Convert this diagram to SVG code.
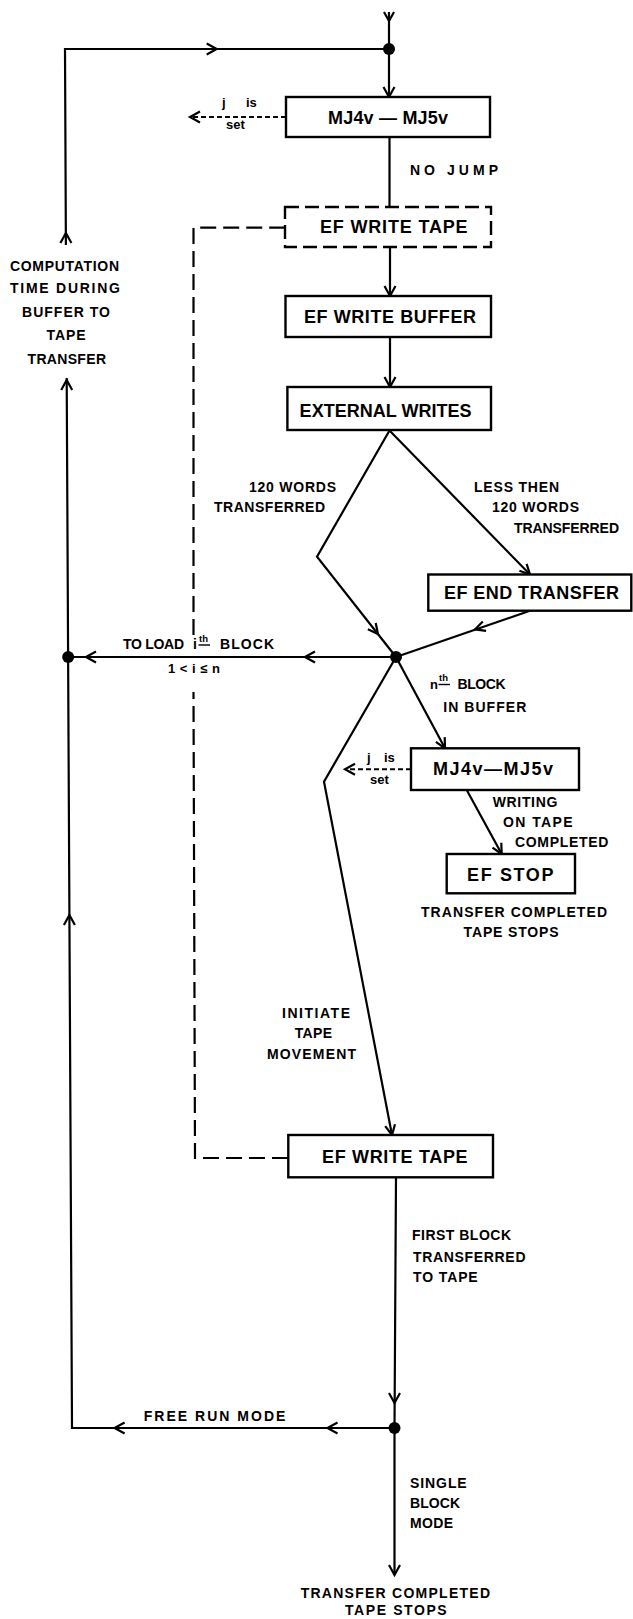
<svg xmlns="http://www.w3.org/2000/svg" width="633" height="1619" viewBox="0 0 633 1619">
<style>
.box{fill:#fff;stroke:#000;stroke-width:2.4}
.dbox{fill:#fff;stroke:#000;stroke-width:2.4;stroke-dasharray:14 6}
.ln{fill:none;stroke:#000;stroke-width:2.2}
.dl{fill:none;stroke:#000;stroke-width:2.2;stroke-dasharray:16 7}
.ds{fill:none;stroke:#000;stroke-width:2;stroke-dasharray:5 3}
.ah{fill:none;stroke:#000;stroke-width:2.2}
.dot{fill:#000}
.bt{font-family:'Liberation Sans',Arial,sans-serif;font-size:18px;font-weight:bold;fill:#000}
.lb{font-family:'Liberation Sans',Arial,sans-serif;font-size:14px;font-weight:bold;fill:#000}
.sm{font-family:'Liberation Sans',Arial,sans-serif;font-size:13px;font-weight:bold;fill:#000}
.sup{font-family:'Liberation Sans',Arial,sans-serif;font-size:9.5px;font-weight:bold;fill:#000}
</style>
<g id="connectors">
  <path class="ln" d="M389,12 V49"/>
  <path class="ah" d="M384,12 L389,21 L394,12"/>
  <path class="ln" d="M65.9,245 L65,49 H389"/>
  <path class="ah" d="M206.7,43.5 L216.7,49 L206.7,54.5"/>
  <path class="ah" d="M60.4,243 L65.9,233 L71.4,243"/>
  <path class="ln" d="M389,49 V97"/>
  <path class="ah" d="M383.5,87 L389,97 L394.5,87"/>
  <path class="ds" d="M286,117 H191"/>
  <path class="ah" d="M200,111.5 L190,117 L200,122.5"/>
  <path class="ln" d="M389.5,137 V207"/>
  <path class="ln" d="M390,247 V296"/>
  <path class="ah" d="M384.5,286 L390,296 L395.5,286"/>
  <path class="ln" d="M390,337 V387"/>
  <path class="ah" d="M384.5,377 L390,387 L395.5,377"/>
  <path class="ln" d="M396,657 L317,556.7 L389.5,430.5 L530,574.5"/>
  <path class="ah" d="M367.9,629.2 L378,634 L375.7,623.1"/>
  <path class="ah" d="M519.4,570.8 L530,574.5 L526.6,563.9"/>
  <path class="ln" d="M530,610.7 L396,657"/>
  <path class="ah" d="M482.8,621.4 L475,629.4 L486.1,630.9"/>
  <path class="ln" d="M396,657 H68"/>
  <path class="ah" d="M315,651.5 L305,657 L315,662.5"/>
  <path class="ah" d="M96,651.5 L86,657 L96,662.5"/>
  <path class="ln" d="M396,657 L445,748.3"/>
  <path class="ah" d="M435.9,741.9 L445,748.3 L444.7,737.1"/>
  <path class="ds" d="M411,769.3 H346"/>
  <path class="ah" d="M355,763.8 L345,769.3 L355,774.8"/>
  <path class="ln" d="M466.7,790 L501.7,854"/>
  <path class="ah" d="M492.5,847.6 L501.7,854 L501.3,842.8"/>
  <path class="ln" d="M396,657 L324,781.7 L392,1135"/>
  <path class="ah" d="M385.2,1126.1 L392,1135 L395,1124.2"/>
  <path class="dl" d="M288,1158 H195 L193.5,692"/>
  <path class="dl" d="M193.5,635 L193.5,227.7 H285"/>
  <path class="ln" d="M396,1177 L394.5,1428 V1575"/>
  <path class="ah" d="M389,1393 L394.5,1403 L400,1393"/>
  <path class="ah" d="M389,1565 L394.5,1575 L400,1565"/>
  <path class="ln" d="M394.5,1428 H72 L66.7,378"/>
  <path class="ah" d="M337.5,1422.5 L327.5,1428 L337.5,1433.5"/>
  <path class="ah" d="M124.6,1422.5 L114.6,1428 L124.6,1433.5"/>
  <path class="ah" d="M61.2,390 L66.7,380 L72.2,390"/>
  <path class="ah" d="M63.9,925 L69.4,915 L74.9,925"/>
  <circle class="dot" cx="389" cy="49" r="6"/>
  <circle class="dot" cx="68.2" cy="657" r="6"/>
  <circle class="dot" cx="396" cy="657" r="6"/>
  <circle class="dot" cx="394.5" cy="1428" r="6"/>
</g>
<g id="n_mj_top">
  <rect class="box" x="286" y="97" width="204" height="40"/>
  <text class="bt" x="328" y="123.5" textLength="120">MJ4v — MJ5v</text>
</g>
<g id="n_ef_write_tape_dashed">
  <rect class="dbox" x="285" y="207" width="206" height="40"/>
  <text class="bt" x="320" y="233" textLength="147.6">EF WRITE TAPE</text>
</g>
<g id="n_ef_write_buffer">
  <rect class="box" x="285.5" y="296" width="205.5" height="41"/>
  <text class="bt" x="304" y="323" textLength="172">EF WRITE BUFFER</text>
</g>
<g id="n_external_writes">
  <rect class="box" x="287.4" y="387" width="203.6" height="43"/>
  <text class="bt" x="299.6" y="416.5" textLength="172">EXTERNAL WRITES</text>
</g>
<g id="n_ef_end_transfer">
  <rect class="box" x="428.3" y="574.5" width="203" height="36.2"/>
  <text class="bt" x="444" y="598.5" textLength="175">EF END TRANSFER</text>
</g>
<g id="n_mj_mid">
  <rect class="box" x="411" y="748.3" width="168" height="41.7"/>
  <text class="bt" x="433" y="775" textLength="120">MJ4v—MJ5v</text>
</g>
<g id="n_ef_stop">
  <rect class="box" x="446.7" y="854" width="128.3" height="39.3"/>
  <text class="bt" x="467" y="880.5" textLength="86.5">EF STOP</text>
</g>
<g id="n_ef_write_tape">
  <rect class="box" x="288.3" y="1135" width="204.7" height="42.3"/>
  <text class="bt" x="322" y="1163" textLength="145.6">EF WRITE TAPE</text>
</g>
<g id="labels">
  <text class="sm" x="222" y="107">j</text>
  <text class="sm" x="246" y="107">is</text>
  <text class="sm" x="226" y="129">set</text>
  <text class="lb" x="410" y="175" textLength="25">NO</text>
  <text class="lb" x="447" y="175" textLength="51">JUMP</text>
  <text class="lb" x="10" y="270.5" textLength="109">COMPUTATION</text>
  <text class="lb" x="10" y="293.3" textLength="110">TIME DURING</text>
  <text class="lb" x="22" y="317" textLength="88">BUFFER TO</text>
  <text class="lb" x="46.6" y="340" textLength="39">TAPE</text>
  <text class="lb" x="27.5" y="364" textLength="78.5">TRANSFER</text>
  <text class="lb" x="249" y="491.5" textLength="87">120 WORDS</text>
  <text class="lb" x="214" y="511.5" textLength="111">TRANSFERRED</text>
  <text class="lb" x="474" y="491.5" textLength="85">LESS THEN</text>
  <text class="lb" x="492" y="511.5" textLength="87">120 WORDS</text>
  <text class="lb" x="514" y="533" textLength="105">TRANSFERRED</text>
  <text class="lb" x="123" y="648.5" textLength="61">TO LOAD</text>
  <text class="lb" x="193" y="648.5">i</text>
  <text class="sup" x="199" y="641.5">th</text>
  <path class="ln" d="M198.5,645 H210" style="stroke-width:1.4"/>
  <text class="lb" x="220" y="648.5" textLength="54">BLOCK</text>
  <text class="sm" x="168" y="672.5" textLength="52">1 &lt; i ≤ n</text>
  <text class="sm" x="430" y="688.5">n</text>
  <text class="sup" x="439" y="681">th</text>
  <path class="ln" d="M438.5,684.5 H450" style="stroke-width:1.4"/>
  <text class="lb" x="457.5" y="688.5" textLength="48">BLOCK</text>
  <text class="lb" x="443.3" y="711.5" textLength="83">IN BUFFER</text>
  <text class="sm" x="367" y="761.5">j</text>
  <text class="sm" x="384" y="761.5">is</text>
  <text class="sm" x="370" y="784">set</text>
  <text class="lb" x="492.7" y="807.3" textLength="64.6">WRITING</text>
  <text class="lb" x="503" y="827.3" textLength="69.7">ON TAPE</text>
  <text class="lb" x="515" y="847.3" textLength="93.3">COMPLETED</text>
  <text class="lb" x="421" y="916.7" textLength="186">TRANSFER COMPLETED</text>
  <text class="lb" x="463.6" y="936.7" textLength="95">TAPE STOPS</text>
  <text class="lb" x="282" y="1018.3" textLength="68">INITIATE</text>
  <text class="lb" x="294.7" y="1038.3" textLength="37.3">TAPE</text>
  <text class="lb" x="267" y="1059" textLength="89">MOVEMENT</text>
  <text class="lb" x="412" y="1240" textLength="99">FIRST BLOCK</text>
  <text class="lb" x="413" y="1262" textLength="112.5">TRANSFERRED</text>
  <text class="lb" x="413" y="1281.7" textLength="64.7">TO TAPE</text>
  <text class="lb" x="143.7" y="1420.7" textLength="141.7">FREE RUN MODE</text>
  <text class="lb" x="410" y="1488.3" textLength="56.7">SINGLE</text>
  <text class="lb" x="410" y="1508.3" textLength="50">BLOCK</text>
  <text class="lb" x="410" y="1528.3" textLength="43">MODE</text>
  <text class="lb" x="300.7" y="1598.3" textLength="189.3">TRANSFER COMPLETED</text>
  <text class="lb" x="345" y="1615" textLength="101.7">TAPE STOPS</text>
</g>
</svg>
